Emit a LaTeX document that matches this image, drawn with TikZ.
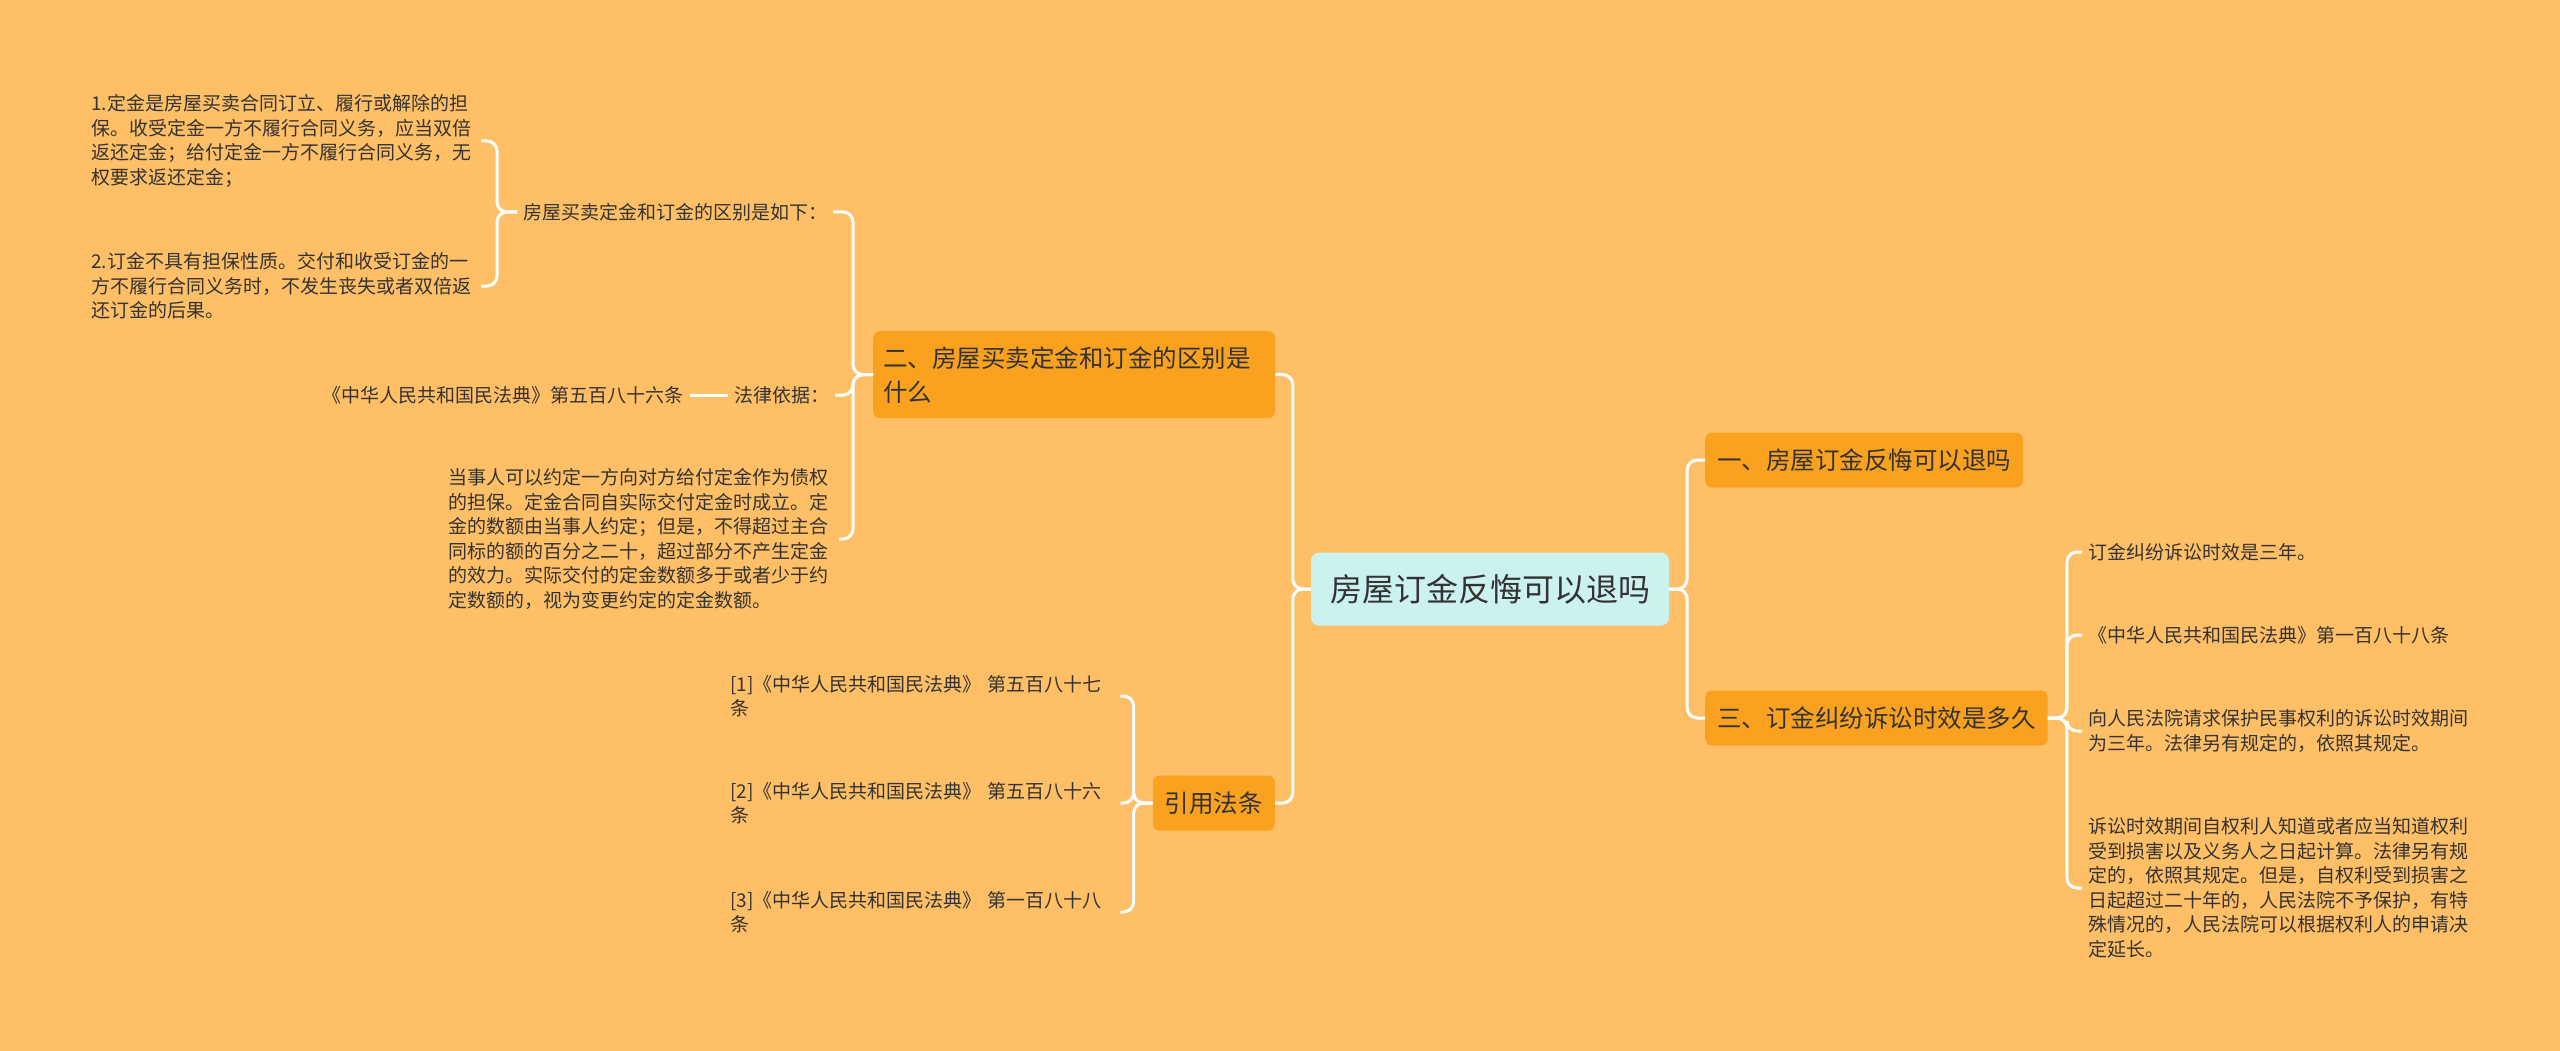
\documentclass[tikz,border=0pt]{standalone}
\usepackage{fontspec}
\setmainfont{Noto Sans CJK SC}
\definecolor{bg}{HTML}{FFBF66}
\definecolor{lvone}{HTML}{FAA21F}
\definecolor{rootc}{HTML}{CCF2F0}
\definecolor{txt}{HTML}{333333}
\begin{document}
\begin{tikzpicture}[x=1pt,y=-1pt,
  conn/.style={draw=white,line width=3pt,rounded corners=10pt},
  rootbox/.style={fill=rootc,rounded corners=8pt,text=txt,font=\fontsize{32}{40}\selectfont,inner xsep=16pt,minimum height=73pt,minimum width=358pt},
  topic/.style={fill=lvone,rounded corners=7pt,text=txt,font=\fontsize{24.5}{34}\selectfont,inner xsep=12pt,minimum height=55pt,align=left},
  leaf/.style={text=txt,font=\fontsize{19}{24.5}\selectfont,inner xsep=6pt,inner ysep=2pt,align=left},
]
\fill[bg] (0,0) rectangle (2560,1051);
\useasboundingbox (0,0) rectangle (2560,1051);

% root and main topics
\node[rootbox] (root) at (1490,589) {房屋订金反悔可以退吗};
\node[topic,text width=382pt,inner xsep=10pt,minimum height=87pt,anchor=north west] (t2) at (873,331) {二、房屋买卖定金和订金的区别是\\什么};
\node[topic,anchor=west] (t1) at (1705,460) {一、房屋订金反悔可以退吗};
\node[topic,anchor=west] (t3) at (1705,718) {三、订金纠纷诉讼时效是多久};
\node[topic,anchor=east] (t4) at (1275,803) {引用法条};

% branch two
\node[leaf,anchor=west] (a1) at (517,212) {房屋买卖定金和订金的区别是如下：};
\node[leaf,anchor=west,text width=384pt] (a11) at (85,141) {1.定金是房屋买卖合同订立、履行或解除的担\\保。收受定金一方不履行合同义务，应当双倍\\返还定金；给付定金一方不履行合同义务，无\\权要求返还定金；};
\node[leaf,anchor=west,text width=384pt] (a12) at (85,286) {2.订金不具有担保性质。交付和收受订金的一\\方不履行合同义务时，不发生丧失或者双倍返\\还订金的后果。};
\node[leaf,anchor=west] (a2) at (728,395) {法律依据：};
\node[leaf,anchor=east] (a21) at (690,395) {《中华人民共和国民法典》第五百八十六条};
\node[leaf,anchor=west,text width=385pt] (a3) at (442,539) {当事人可以约定一方向对方给付定金作为债权\\的担保。定金合同自实际交付定金时成立。定\\金的数额由当事人约定；但是，不得超过主合\\同标的额的百分之二十，超过部分不产生定金\\的效力。实际交付的定金数额多于或者少于约\\定数额的，视为变更约定的定金数额。};

% references
\node[leaf,anchor=west,text width=384pt] (b1) at (724,696) {[1]《中华人民共和国民法典》 第五百八十七\\条};
\node[leaf,anchor=west,text width=384pt] (b2) at (724,803) {[2]《中华人民共和国民法典》 第五百八十六\\条};
\node[leaf,anchor=west,text width=384pt] (b3) at (724,912) {[3]《中华人民共和国民法典》 第一百八十八\\条};

% branch three
\node[leaf,anchor=west] (c1) at (2082,552) {订金纠纷诉讼时效是三年。};
\node[leaf,anchor=west] (c2) at (2082,635) {《中华人民共和国民法典》第一百八十八条};
\node[leaf,anchor=west,text width=384pt] (c3) at (2082,731) {向人民法院请求保护民事权利的诉讼时效期间\\为三年。法律另有规定的，依照其规定。};
\node[leaf,anchor=west,text width=384pt] (c4) at (2082,888) {诉讼时效期间自权利人知道或者应当知道权利\\受到损害以及义务人之日起计算。法律另有规\\定的，依照其规定。但是，自权利受到损害之\\日起超过二十年的，人民法院不予保护，有特\\殊情况的，人民法院可以根据权利人的申请决\\定延长。};

% connectors
\draw[conn] (root.west) -- ++(-18,0) |- (t2.east);
\draw[conn] (root.west) -- ++(-18,0) |- (t4.east);
\draw[conn] (root.east) -- ++(18,0) |- (t1.west);
\draw[conn] (root.east) -- ++(18,0) |- (t3.west);

\draw[conn] (t2.west) -- ++(-20,0) |- (a1.east);
\draw[conn] (t2.west) -- ++(-20,0) |- (a2.east);
\draw[conn] (t2.west) -- ++(-20,0) |- (a3.east);
\draw[conn] (a1.west) -- ++(-20,0) |- (a11.east);
\draw[conn] (a1.west) -- ++(-20,0) |- (a12.east);
\draw[conn] (a2.west) -- (a21.east);

\draw[conn] (t4.west) -- ++(-19,0) |- (b1.east);
\draw[conn] (t4.west) -- ++(-19,0) |- (b2.east);
\draw[conn] (t4.west) -- ++(-19,0) |- (b3.east);

\draw[conn] (t3.east) -- ++(19,0) |- (c1.west);
\draw[conn] (t3.east) -- ++(19,0) |- (c2.west);
\draw[conn] (t3.east) -- ++(19,0) |- (c3.west);
\draw[conn] (t3.east) -- ++(19,0) |- (c4.west);
\end{tikzpicture}
\end{document}
